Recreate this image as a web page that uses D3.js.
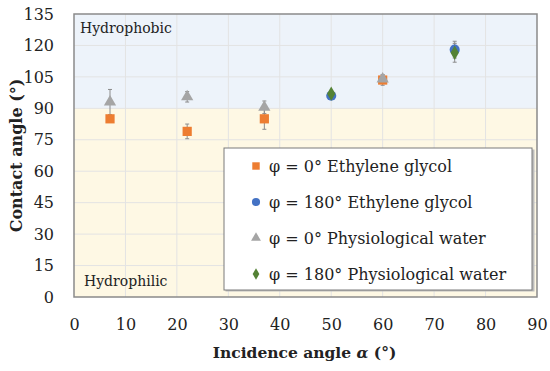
<!DOCTYPE html>
<meta charset="utf-8">
<style>
body { margin: 0; background: #fff; }
svg text { font-family: "DejaVu Serif", serif; fill: #222; }
.grid line { stroke: #e3e3e3; stroke-width: 1; }
.err line { stroke: #8c8c8c; stroke-width: 1; }
</style>
<body></body>
<script src="https://cdn.jsdelivr.net/npm/d3@7"></script>
<script>

// data: [incidence angle, contact angle, error]
var egPhi0 = [[7, 85, 1.5], [22, 79, 3.5], [37, 85, 5], [60, 103.5, 2.5]];
var egPhi180 = [[50, 96, 1], [74, 118, 4]];
var pwPhi0 = [[7, 93, 6], [22, 95.5, 2.5], [37, 90.5, 3], [60, 104, 2]];
var pwPhi180 = [[50, 97, 1], [74, 116.5, 4.5]];

var xTicks = [0, 10, 20, 30, 40, 50, 60, 70, 80, 90];
var yTicks = [0, 15, 30, 45, 60, 75, 90, 105, 120, 135];

var series = [
  {name: "\u03c6 = 0\u00b0  Ethylene glycol", data: egPhi0, color: "#ED7D31", shape: d3.symbolSquare, size: 85},
  {name: "\u03c6 = 180\u00b0 Ethylene glycol", data: egPhi180, color: "#4472C4", shape: d3.symbolCircle, size: 80},
  {name: "\u03c6 = 0\u00b0 Physiological water", data: pwPhi0, color: "#A5A5A5", shape: d3.symbolTriangle, size: 65},
  {name: "\u03c6 = 180\u00b0 Physiological water", data: pwPhi180, color: "#548235", shape: d3.symbolDiamond, size: 60}
];

var W = 550, H = 371;
var margin = {top: 14, right: 13, bottom: 74, left: 74};
var width = W - margin.left - margin.right,
    height = H - margin.top - margin.bottom;
var font = "'DejaVu Serif', serif";

var svg = d3.select("body").append("svg")
    .attr("width", W)
    .attr("height", H);

var g = svg.append("g")
    .attr("transform", "translate(" + margin.left + "," + margin.top + ")");

var x = d3.scaleLinear().domain([0, 90]).range([0, width]);
var y = d3.scaleLinear().domain([0, 135]).range([height, 0]);

// shaded zones
g.append("rect")
    .attr("x", 0).attr("y", y(135))
    .attr("width", width).attr("height", y(90) - y(135))
    .attr("fill", "#EDF3FA");
g.append("rect")
    .attr("x", 0).attr("y", y(90))
    .attr("width", width).attr("height", y(0) - y(90))
    .attr("fill", "#FEF8E4");

// grid
var grid = g.append("g").attr("class", "grid");
grid.selectAll(".v").data(xTicks.slice(1, -1)).enter().append("line")
    .attr("x1", d => x(d)).attr("x2", d => x(d))
    .attr("y1", 0).attr("y2", height);
grid.selectAll(".h").data(yTicks.slice(1, -1)).enter().append("line")
    .attr("x1", 0).attr("x2", width)
    .attr("y1", d => y(d)).attr("y2", d => y(d));

// frame
g.append("rect")
    .attr("width", width).attr("height", height)
    .attr("fill", "none").attr("stroke", "#8a8a8a").attr("stroke-width", 1.5);

// axes labels
var xAxis = d3.axisBottom(x).tickValues(xTicks).tickSize(0).tickPadding(22);
g.append("g").attr("transform", "translate(0," + height + ")").call(xAxis)
    .attr("font-family", font).attr("font-size", 16)
    .call(s => s.select(".domain").remove())
    .selectAll("text").attr("fill", "#222");

var yAxis = d3.axisLeft(y).tickValues(yTicks).tickSize(0).tickPadding(20);
g.append("g").call(yAxis)
    .attr("font-family", font).attr("font-size", 16)
    .call(s => s.select(".domain").remove())
    .selectAll("text").attr("fill", "#222");

svg.append("text")
    .attr("x", margin.left + width / 2 - 1).attr("y", 358)
    .attr("text-anchor", "middle")
    .attr("font-size", 15.5).attr("font-weight", "bold")
    .html("Incidence angle <tspan font-style='italic'>\u03b1</tspan> (\u00b0)");

svg.append("text")
    .attr("transform", "translate(22," + (margin.top + height / 2) + ") rotate(-90)")
    .attr("text-anchor", "middle")
    .attr("font-size", 16).attr("font-weight", "bold")
    .text("Contact angle (\u00b0)");

g.append("text").attr("x", 6).attr("y", 19).attr("font-size", 14).text("Hydrophobic");
g.append("text").attr("x", 10).attr("y", y(0) - 11).attr("font-size", 14).text("Hydrophilic");

// error bars + markers
series.forEach(function(s) {
  var eb = g.append("g").attr("class", "err");
  s.data.forEach(function(d) {
    eb.append("line").attr("x1", x(d[0])).attr("x2", x(d[0]))
      .attr("y1", y(d[1] - d[2])).attr("y2", y(d[1] + d[2]));
    [d[1] - d[2], d[1] + d[2]].forEach(function(v) {
      eb.append("line").attr("x1", x(d[0]) - 2).attr("x2", x(d[0]) + 2)
        .attr("y1", y(v)).attr("y2", y(v));
    });
  });
});
series.forEach(function(s) {
  g.append("g").selectAll("path").data(s.data).enter().append("path")
    .attr("d", d3.symbol().type(s.shape).size(s.size))
    .attr("transform", d => "translate(" + x(d[0]) + "," + y(d[1]) + ")")
    .attr("fill", s.color);
});

// legend
var lg = svg.append("g").attr("transform", "translate(224,148)");
lg.append("rect").attr("x", 1.5).attr("y", 1.5).attr("width", 309).attr("height", 142)
    .attr("fill", "#bdbdbd");
lg.append("rect").attr("width", 308).attr("height", 142)
    .attr("fill", "#fff").attr("stroke", "#7a7a7a").attr("stroke-width", 1);
series.forEach(function(s, i) {
  var yy = 18 + i * 36;
  lg.append("path")
    .attr("d", d3.symbol().type(s.shape).size(s.size * 0.65))
    .attr("transform", "translate(32," + yy + ")")
    .attr("fill", s.color);
  lg.append("text").attr("x", 45).attr("y", yy + 6)
    .attr("font-size", 16).text(s.name);
});

</script>
